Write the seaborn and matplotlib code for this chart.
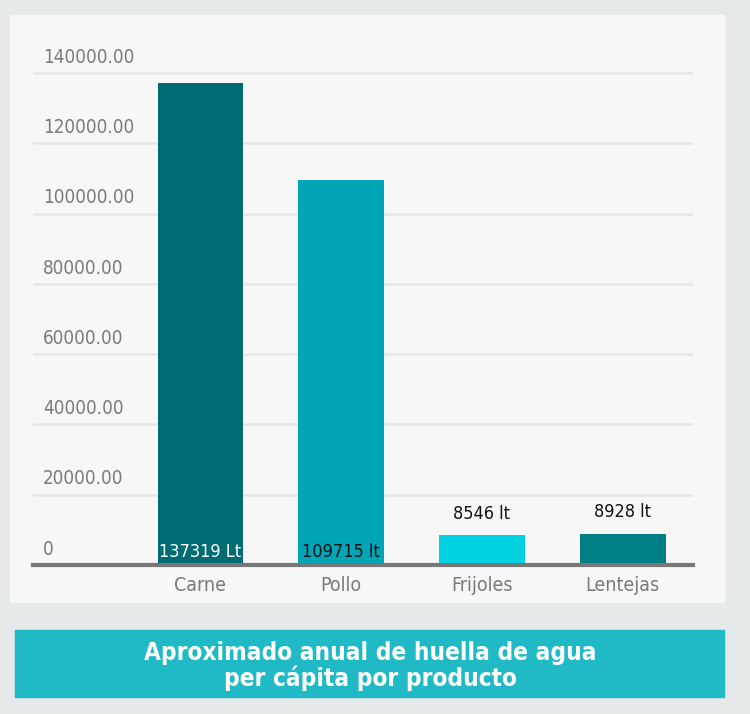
import seaborn as sns
from matplotlib import pyplot as plt
from matplotlib.patches import Rectangle
import pandas as pd

# data
productos = ['Carne', 'Pollo', 'Frijoles', 'Lentejas']
litros = [137319, 109715, 8546, 8928]
etiquetas = ['137319 Lt', '109715 lt', '8546 lt', '8928 lt']
colores = ['#006b72', '#00a6b6', '#00d2e2', '#007e86']
yticks = [0, 20000, 40000, 60000, 80000, 100000, 120000, 140000]
ytick_labels = ['0', '20000.00', '40000.00', '60000.00', '80000.00',
                '100000.00', '120000.00', '140000.00']

df = pd.DataFrame({'producto': productos, 'litros': litros})

sns.set_style('white')
plt.rcParams['font.family'] = ['DejaVu Sans']
plt.rcParams['font.stretch'] = 'condensed'

W, H = 750, 714
fig = plt.figure(figsize=(7.5, 7.14), dpi=100)
fig.patch.set_facecolor('#e5e9e9')

# light panel behind the chart
fig.patches.append(Rectangle((10 / W, 1 - 602 / H), 714 / W, 587 / H,
                             transform=fig.transFigure, color='#f7f7f7', zorder=-2))
# banner for the title
fig.patches.append(Rectangle((15 / W, 1 - 697 / H), 709 / W, 67 / H,
                             transform=fig.transFigure, color='#1fbac5', zorder=-2))

ax = fig.add_axes([33 / W, 1 - 565 / H, 660 / W, 527 / H])
ax.set_facecolor('none')

sns.barplot(data=df, x='producto', y='litros', hue='producto', palette=colores,
            saturation=1, legend=False, width=0.61, linewidth=0, ax=ax, zorder=3)

ax.set_xlim(-1.19, 3.5)
ax.set_ylim(0, 150000)
for s in ['top', 'right', 'left']:
    ax.spines[s].set_visible(False)
ax.spines['bottom'].set_color('#777777')
ax.spines['bottom'].set_linewidth(3)
ax.spines['bottom'].set_zorder(4)

ax.set_yticks(yticks)
ax.set_yticklabels([])
ax.tick_params(axis='y', length=0)
ax.yaxis.grid(True, color='#e6e6e6', linewidth=1.8, zorder=0)
ax.set_axisbelow(True)
ax.set_ylabel('')
ax.set_xlabel('')
ax.tick_params(axis='x', length=0, pad=8, labelsize=14, labelcolor='#7a7a7a')

trans = ax.get_yaxis_transform()
for v, lab in zip(yticks, ytick_labels):
    ax.text(0.015, v + 1800, lab, transform=trans, ha='left', va='bottom',
            fontsize=13.5, color='#7a7a7a')

# value labels
for i, (v, lab) in enumerate(zip(litros, etiquetas)):
    if v > 50000:
        col = 'white' if i == 0 else '#111111'
        ax.text(i, 1200, lab, ha='center', va='bottom', fontsize=13, color=col, zorder=5)
    else:
        ax.text(i, v + 3500, lab, ha='center', va='bottom', fontsize=13, color='#111111', zorder=5)

fig.text(370 / W, 1 - 666 / H, 'Aproximado anual de huella de agua\nper cápita por producto',
         ha='center', va='center', color='white', fontsize=17.5, fontweight='bold',
         linespacing=1.05)

fig.savefig('out.png', dpi=100, facecolor=fig.get_facecolor())
